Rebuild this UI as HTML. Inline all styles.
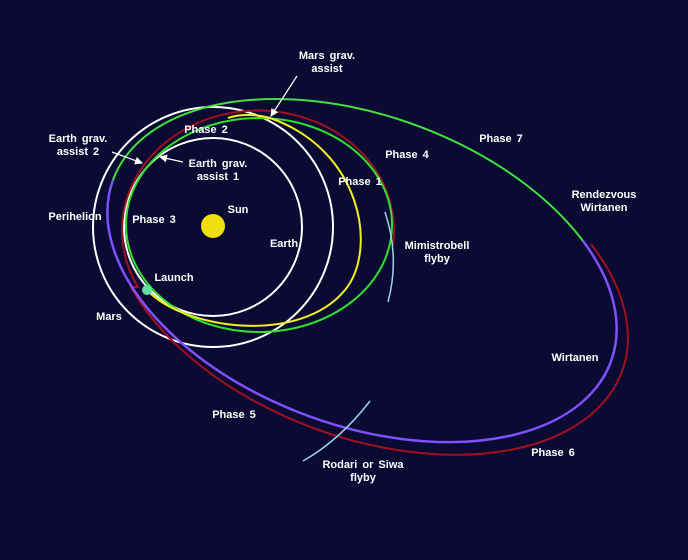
<!DOCTYPE html>
<html><head><meta charset="utf-8"><style>
html,body{margin:0;padding:0;background:#0a0a32;}
svg{display:block;}
text{font-family:"Liberation Sans",sans-serif;font-weight:bold;font-size:11px;fill:#fff;text-anchor:middle;word-spacing:2px;}
</style></head><body>
<svg width="688" height="560" viewBox="0 0 688 560" xmlns="http://www.w3.org/2000/svg">
<rect width="688" height="560" fill="#0a0a32"/>
<defs><marker id="ah" markerWidth="8" markerHeight="8" refX="7" refY="4" orient="auto" markerUnits="userSpaceOnUse"><path d="M0,0 L8,4 L0,8 z" fill="#fff"/></marker></defs>
<g fill="none" stroke-width="2">
<circle cx="213" cy="227" r="89" stroke="#fff"/>
<circle cx="213" cy="227" r="120" stroke="#fff"/>
<!-- red -->
<path d="M591,244 A268,159 20 1 1 131,287 L138,287 A136,120 0 1 1 393,245" stroke="#a01020"/>
<!-- purple -->
<path d="M583,241 A265,155 20 1 1 113,180" stroke="#8050ff" stroke-width="2.5"/>
<!-- outer green -->
<path d="M113,180 A265,155 20 0 1 583,241" stroke="#40e040"/>
<!-- inner green -->
<ellipse cx="259" cy="225" rx="133" ry="107" stroke="#30e030"/>
<!-- yellow -->
<path d="M147,290 C185,330 300,345 345,290 C378,250 362,150 270,118 C255,114 240,114 228,118" stroke="#f0f020"/>
<path d="M385,212 Q400,257 388,302" stroke="#a0d0f0" stroke-width="1.5"/>
<path d="M370,401 Q340,440 303,461" stroke="#a0d0f0" stroke-width="1.5"/>
<line x1="297" y1="76" x2="271" y2="116" stroke="#fff" stroke-width="1.2" marker-end="url(#ah)"/>
<line x1="112" y1="152" x2="142" y2="163" stroke="#fff" stroke-width="1.2" marker-end="url(#ah)"/>
<line x1="183" y1="162" x2="160" y2="157" stroke="#fff" stroke-width="1.2" marker-end="url(#ah)"/>
</g>
<circle cx="213" cy="226" r="12" fill="#f0e010"/>
<circle cx="147" cy="290" r="5" fill="#60e0a0"/>
<text x="327" y="59">Mars grav.</text><text x="327" y="72">assist</text>
<text x="78" y="142">Earth grav.</text><text x="78" y="155">assist 2</text>
<text x="218" y="167">Earth grav.</text><text x="218" y="180">assist 1</text>
<text x="206" y="133">Phase 2</text>
<text x="360" y="185">Phase 1</text>
<text x="407" y="158">Phase 4</text>
<text x="501" y="142">Phase 7</text>
<text x="604" y="198">Rendezvous</text><text x="604" y="211">Wirtanen</text>
<text x="238" y="213">Sun</text>
<text x="75" y="220">Perihelion</text>
<text x="154" y="223">Phase 3</text>
<text x="284" y="247">Earth</text>
<text x="437" y="249">Mimistrobell</text><text x="437" y="262">flyby</text>
<text x="174" y="281">Launch</text>
<text x="109" y="320">Mars</text>
<text x="575" y="361">Wirtanen</text>
<text x="234" y="418">Phase 5</text>
<text x="553" y="456">Phase 6</text>
<text x="363" y="468">Rodari or Siwa</text><text x="363" y="481">flyby</text>
</svg>
</body></html>
